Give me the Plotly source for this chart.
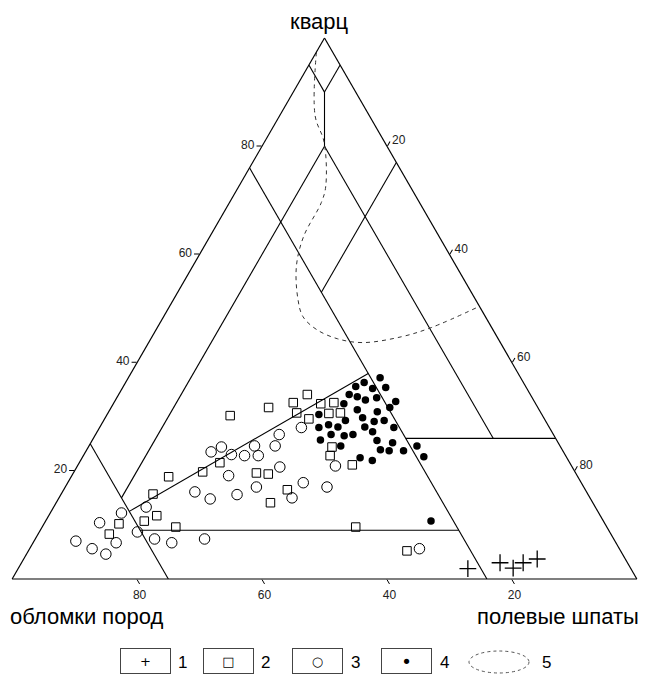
import plotly.graph_objects as go

# ---------------- data (Q = кварц, F = полевые шпаты, R = обломки пород), % ----------------
# 1: crosses
plus_Q = [1.9, 3.0, 2.0, 3.0, 3.7]
plus_F = [72.0, 76.6, 79.2, 80.3, 82.2]
plus_R = [26.1, 20.4, 18.8, 16.7, 14.1]

# 2: open squares
sq_Q = [30.2, 31.7, 32.6, 34.1, 32.4, 32.6, 30.6, 30.7, 29.6, 30.7, 24.4, 22.8, 21.1, 21.5,
        19.8, 18.9, 19.6, 19.4, 16.5, 14.1, 15.7, 11.7, 10.7, 10.2, 9.6, 9.6, 5.2, 8.3]
sq_F = [19.8, 25.2, 28.7, 30.2, 33.2, 35.2, 35.4, 37.2, 32.7, 30.2, 39.0, 39.5, 43.9, 22.5,
        20.6, 15.6, 29.3, 31.3, 35.8, 34.3, 14.7, 17.3, 15.8, 12.0, 21.4, 50.2, 60.6, 11.4]
sq_R = [50.0, 43.1, 38.7, 35.7, 34.4, 32.2, 34.0, 32.1, 37.7, 39.1, 36.6, 37.7, 35.0, 56.0,
        59.6, 65.5, 51.1, 49.3, 47.7, 51.6, 69.6, 71.0, 73.5, 77.8, 69.0, 40.2, 34.2, 80.3]

# 3: open circles
ci_Q = [28.0, 26.7, 24.6, 24.6, 22.8, 22.8, 23.0, 24.4, 23.5, 20.7, 19.1, 20.9, 17.8, 17.0,
        17.0, 15.6, 15.0, 14.8, 16.1, 13.3, 12.2, 10.4, 7.0, 5.6, 4.6, 6.7, 8.7, 7.4, 6.7, 7.4, 5.6]
ci_F = [32.3, 29.4, 29.8, 26.5, 28.0, 25.8, 23.6, 21.3, 20.1, 32.5, 25.1, 41.3, 37.7, 41.9,
        30.6, 28.2, 37.3, 24.3, 21.2, 14.8, 11.4, 8.8, 6.7, 10.0, 12.7, 13.3, 15.7, 19.1, 22.2, 27.1, 62.4]
ci_R = [39.7, 43.9, 45.6, 48.9, 49.2, 51.4, 53.4, 54.3, 56.4, 46.8, 55.8, 37.8, 44.5, 41.1,
        52.4, 56.2, 47.7, 60.9, 62.7, 71.9, 76.4, 80.8, 86.3, 84.4, 82.7, 80.0, 75.6, 73.5, 71.1, 65.5, 32.0]

# 4: filled circles
dot_Q = [37.2, 36.3, 35.6, 35.2, 35.4, 34.1, 33.7, 33.1, 33.5, 32.8, 32.4, 31.7, 31.3, 30.9,
         30.4, 29.8, 29.1, 29.3, 29.3, 28.5, 28.0, 28.1, 28.1, 28.0, 27.2, 26.7, 26.5, 26.7,
         25.7, 25.6, 25.2, 24.6, 23.9, 23.7, 23.7, 24.6, 22.6, 22.4, 21.9, 10.7]
dot_F = [40.3, 38.2, 37.2, 40.1, 42.1, 36.9, 38.4, 40.0, 41.6, 45.0, 36.9, 44.6, 39.6, 43.0,
         33.9, 41.2, 43.4, 44.9, 38.7, 36.4, 35.1, 38.1, 42.4, 47.1, 44.1, 37.7, 39.9, 41.2,
         36.5, 45.6, 48.3, 40.3, 47.0, 48.5, 50.8, 52.5, 54.6, 44.5, 46.7, 61.7]
dot_R = [22.5, 25.5, 27.2, 24.7, 22.5, 29.0, 27.9, 26.9, 24.9, 22.2, 30.7, 23.7, 29.1, 26.1,
         35.7, 29.0, 27.5, 25.8, 32.0, 35.1, 36.9, 33.8, 29.5, 24.9, 28.7, 35.6, 33.6, 32.1,
         37.8, 28.8, 26.5, 35.1, 29.1, 27.8, 25.5, 22.9, 22.8, 33.1, 31.4, 27.6]

# 5: dashed field outline
f5_Q = [97.4, 85.6, 80.7, 72.6, 69.6, 63.3, 57.8, 51.7, 48.5, 46.1, 44.4, 43.7, 44.8, 46.5, 50.4]
f5_F = [0.0, 5.7, 9.6, 13.9, 14.7, 15.0, 16.6, 19.9, 22.3, 25.7, 29.9, 34.3, 40.0, 43.9, 49.6]
f5_R = [2.6, 8.7, 9.7, 13.5, 15.7, 21.7, 25.6, 28.4, 29.2, 28.2, 25.7, 22.0, 15.2, 9.6, 0.0]

# classification field boundaries: ((Q, F, R) start, (Q, F, R) end)
field_lines = [
    ((95, 0, 5), (90, 5, 5)),
    ((95, 5, 0), (90, 5, 5)),
    ((90, 5, 5), (80, 10, 10)),
    ((80, 10, 10), (15, 10, 75)),
    ((80, 10, 10), (26, 64, 10)),
    ((76, 0, 24), (0, 76, 24)),
    ((77, 23, 0), (53, 23, 24)),
    ((25, 0, 75), (0, 25, 75)),
    ((12.5, 12.5, 75), (38, 38, 24)),
    ((9, 16, 75), (9, 67, 24)),
    ((26, 50, 24), (26, 74, 0)),
]

axis_ticks = [20, 40, 60, 80]
legend_labels = ["1", "2", "3", "4", "5"]
legend_glyphs = ["+", "□", "○", "•"]

# ---------------- figure ----------------
OFF = 8                      # page body margin of the browser
W, H = 646 - OFF, 676 - OFF
# target triangle in window pixels: left 12, right 637, bottom 579
TL, TR, TB = 12, 637, 579
PW = TR - TL
PH = round(PW * 3 ** 0.5 / 2)
ML = TL - OFF
MR = W - ML - PW
MB = H - (TB - OFF)
MT = H - MB - PH


def xp(px):
    # window pixel -> paper x
    return (px - OFF - ML) / PW


def yp(py):
    # window pixel -> paper y
    return (TB - py) / PH


fig = go.Figure()

la, lb, lc = [], [], []
for (q0, f0, r0), (q1, f1, r1) in field_lines:
    la += [q0, q1, None]
    lb += [r0, r1, None]
    lc += [f0, f1, None]
fig.add_trace(go.Scatterternary(a=la, b=lb, c=lc, mode="lines",
                                line=dict(color="black", width=1.1),
                                showlegend=False, hoverinfo="skip"))

fig.add_trace(go.Scatterternary(a=f5_Q, b=f5_R, c=f5_F, mode="lines", name="5",
                                line=dict(color="#333", width=1, dash="4px,4px", shape="spline"),
                                showlegend=False))

fig.add_trace(go.Scatterternary(a=plus_Q, b=plus_R, c=plus_F, mode="markers", name="1",
                                marker=dict(symbol="cross-thin-open", size=12, color="black",
                                            line=dict(color="black", width=1.3)),
                                showlegend=False))
fig.add_trace(go.Scatterternary(a=sq_Q, b=sq_R, c=sq_F, mode="markers", name="2",
                                marker=dict(symbol="square-open", size=8.5, color="black",
                                            line=dict(color="black", width=1)),
                                showlegend=False))
fig.add_trace(go.Scatterternary(a=ci_Q, b=ci_R, c=ci_F, mode="markers", name="3",
                                marker=dict(symbol="circle-open", size=10.5, color="black",
                                            line=dict(color="black", width=1)),
                                showlegend=False))
fig.add_trace(go.Scatterternary(a=dot_Q, b=dot_R, c=dot_F, mode="markers", name="4",
                                marker=dict(symbol="circle", size=7.5, color="black"),
                                showlegend=False))

axis_common = dict(showgrid=False, showline=True, linecolor="black", linewidth=1.2,
                   ticks="outside", ticklen=5, tickcolor="black", tickmode="array",
                   tickvals=axis_ticks, tickfont=dict(size=12, color="#222", family="Liberation Sans"),
                   title=dict(text=""))

fig.update_layout(
    width=W, height=H, autosize=False,
    margin=dict(l=ML, r=MR, t=MT, b=MB, pad=0),
    paper_bgcolor="white",
    font=dict(family="Liberation Sans", color="black"),
    ternary=dict(sum=100, bgcolor="white", domain=dict(x=[0, 1], y=[0, 1]),
                 aaxis=axis_common, baxis=axis_common, caxis=axis_common),
)

ann = [
    dict(text="кварц", x=xp(319), y=yp(21), xanchor="center", yanchor="middle", font=dict(size=22)),
    dict(text="обломки пород", x=xp(8), y=yp(616), xanchor="left", yanchor="middle", font=dict(size=22)),
    dict(text="полевые шпаты", x=xp(641), y=yp(616), xanchor="right", yanchor="middle", font=dict(size=22)),
]
box_cx = [145, 228, 317, 406]
for cx, g in zip(box_cx, legend_glyphs):
    ann.append(dict(text=g, x=xp(cx), y=yp(661), xanchor="center", yanchor="middle",
                    width=49, height=24, bordercolor="#444", borderwidth=1, borderpad=0,
                    font=dict(size=13 if g != "•" else 18, family="DejaVu Sans")))
lab_cx = [182, 265, 355, 444, 546]
for cx, t in zip(lab_cx, legend_labels):
    ann.append(dict(text=t, x=xp(cx), y=yp(662), xanchor="center", yanchor="middle",
                    font=dict(size=17)))
for a in ann:
    a.update(xref="paper", yref="paper", showarrow=False)
fig.update_layout(annotations=ann)

fig.add_shape(type="circle", xref="paper", yref="paper",
              x0=xp(469), x1=xp(529), y0=yp(651), y1=yp(673),
              line=dict(color="#555", width=1, dash="3px,3px"))

fig.write_html("out.html")
